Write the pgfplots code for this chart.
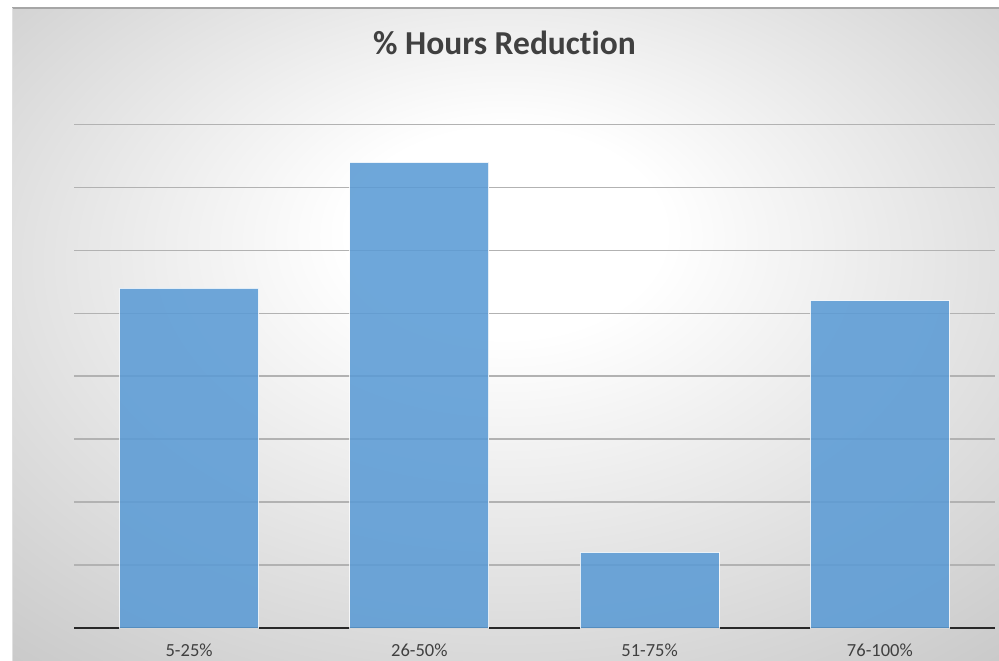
\documentclass[border=0pt]{standalone}
\usepackage{pgfplots}
\pgfplotsset{compat=1.18}
\usepackage{fontspec}
\setmainfont{Carlito}[Ligatures=NoCommon]

\definecolor{barblue}{RGB}{91,155,213}
\definecolor{txt}{RGB}{64,64,64}
\definecolor{gridc}{RGB}{178,178,178}
\pgfdeclareradialshading{chartbg}{\pgfpoint{0bp}{9bp}}{%
  color(0bp)=(white); color(8bp)=(white); color(38bp)=(black!21); color(60bp)=(black!23)}

\begin{document}
\begin{tikzpicture}
% page and chart background
\useasboundingbox (0,0) rectangle (999bp,661bp);
\fill[white] (0,0) rectangle (999bp,661bp);
\shade[shading=chartbg] (12bp,0) rectangle (999bp,653bp);
\draw[black!35, line width=1.2bp] (12bp,653bp) -- (999bp,653bp);
\draw[black!12, line width=1bp] (12bp,0) -- (12bp,653bp);

\begin{axis}[
    at={(74bp,33bp)}, anchor=south west,
    scale only axis,
    width=921bp, height=503.5bp,
    xmin=-0.5, xmax=3.5,
    ymin=0, ymax=40,
    ytick={0,5,...,40},
    yticklabels={},
    xtick={0,1,2,3},
    xticklabels={5-25\%,26-50\%,51-75\%,76-100\%},
    major tick length=0pt,
    axis x line=bottom,
    axis y line=left,
    x axis line style={draw={rgb,255:red,40;green,40;blue,40}, line width=2.2bp, -},
    y axis line style={draw=none},
    ymajorgrids=true,
    major grid style={draw=gridc, line width=1.6bp},
    xticklabel style={anchor=center, yshift=-22.5bp, font=\fontsize{18.5bp}{21bp}\selectfont, text=txt},
    title={\% Hours Reduction},
    title style={at={(axis description cs:0.4674,1)}, anchor=center, yshift=75.5bp,
                 font=\fontsize{33.5bp}{38bp}\selectfont\bfseries, text=txt},
    ybar, bar width=0.604,
]
\addplot[fill=barblue, fill opacity=0.88, draw=white, draw opacity=0.8, line width=1bp]
  coordinates {(0,27) (1,37) (2,6) (3,26)};
\end{axis}
\end{tikzpicture}
\end{document}
